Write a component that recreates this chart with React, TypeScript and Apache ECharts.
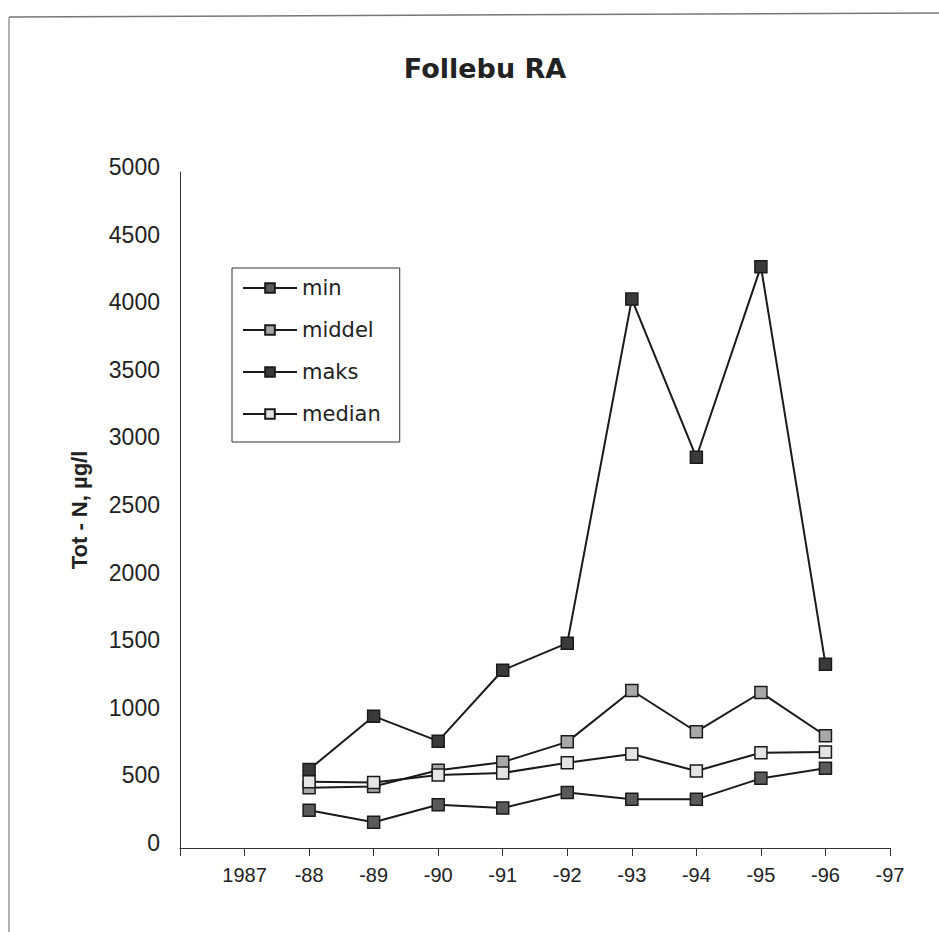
import React, { useEffect, useRef } from "react";
import * as echarts from "echarts";

// Years on the x axis (1986 is the axis origin, not labelled)
const years = [1988, 1989, 1990, 1991, 1992, 1993, 1994, 1995, 1996];

// Tot-N, µg/l
const minValues = [280, 190, 320, 295, 410, 360, 360, 515, 590];
const middelValues = [445, 455, 575, 635, 785, 1165, 860, 1150, 830];
const maksValues = [580, 975, 790, 1315, 1515, 4060, 2890, 4300, 1360];
const medianValues = [490, 485, 540, 555, 630, 695, 570, 705, 710];

const seriesDefs = [
  { name: "min", values: minValues, fill: "#5a5a5a" },
  { name: "middel", values: middelValues, fill: "#a8a8a8" },
  { name: "maks", values: maksValues, fill: "#3a3a3a" },
  { name: "median", values: medianValues, fill: "#e4e4e4" },
];

const font = "Liberation Sans, Arial, sans-serif";
const wideFont = "DejaVu Sans, Liberation Sans, sans-serif";

export default function App() {
  const ref = useRef<HTMLDivElement>(null);

  useEffect(() => {
    if (!ref.current) return;
    const chart = echarts.init(ref.current, undefined, { renderer: "svg" });
    chart.setOption({
      animation: false,
      backgroundColor: "#ffffff",
      title: {
        text: "Follebu RA",
        left: 480,
        top: 50,
        textAlign: "center",
        textStyle: { fontFamily: wideFont, fontSize: 27, fontWeight: "bold", color: "#222" },
      },
      legend: {
        left: 232,
        top: 268,
        orient: "vertical",
        padding: [9, 19, 17, 10],
        itemWidth: 54,
        itemHeight: 12,
        itemGap: 20,
        borderColor: "#333",
        borderWidth: 1,
        borderRadius: 0,
        textStyle: { fontFamily: wideFont, fontSize: 21, lineHeight: 22, color: "#222" },
        data: seriesDefs.map((s) => s.name),
      },
      grid: { left: 180, right: 49, top: 172, bottom: 84 },
      xAxis: {
        type: "value",
        min: 1986,
        max: 1997,
        interval: 1,
        splitLine: { show: false },
        axisLine: { lineStyle: { color: "#333", width: 1 } },
        axisTick: { length: 8, lineStyle: { color: "#333" } },
        axisLabel: {
          margin: 17,
          fontFamily: font,
          fontSize: 20,
          color: "#222",
          formatter: (v: number) =>
            v === 1986 ? "" : v === 1987 ? "1987" : "-" + String(v).slice(2),
        },
      },
      yAxis: {
        type: "value",
        min: 0,
        max: 5000,
        interval: 500,
        name: "Tot - N, µg/l",
        nameLocation: "middle",
        nameGap: 90,
        nameTextStyle: { fontFamily: font, fontSize: 22, fontWeight: "bold", color: "#222" },
        splitLine: { show: false },
        axisLine: { show: true, lineStyle: { color: "#333", width: 1 } },
        axisTick: { show: false },
        axisLabel: {
          margin: 20,
          fontFamily: font,
          fontSize: 23,
          color: "#222",
          verticalAlign: "bottom",
          lineHeight: 10,
          formatter: (v: number) => String(v),
        },
      },
      series: seriesDefs.map((s) => ({
        name: s.name,
        type: "line",
        data: years.map((y, i) => [y, s.values[i]]),
        symbol: "rect",
        symbolSize: 12,
        lineStyle: { color: "#1a1a1a", width: 2 },
        itemStyle: { color: s.fill, borderColor: "#1a1a1a", borderWidth: 1.5 },
        emphasis: { disabled: true },
      })),
      graphic: [
        {
          type: "line",
          shape: { x1: 9, y1: 17, x2: 939, y2: 13 },
          style: { stroke: "#777", lineWidth: 1.5 },
          silent: true,
        },
        {
          type: "line",
          shape: { x1: 9, y1: 17, x2: 9, y2: 932 },
          style: { stroke: "#999", lineWidth: 1.5 },
          silent: true,
        },
      ],
    });
    return () => chart.dispose();
  }, []);

  return <div ref={ref} style={{ width: 939, height: 932, position: "absolute", left: 0, top: 0 }} />;
}
